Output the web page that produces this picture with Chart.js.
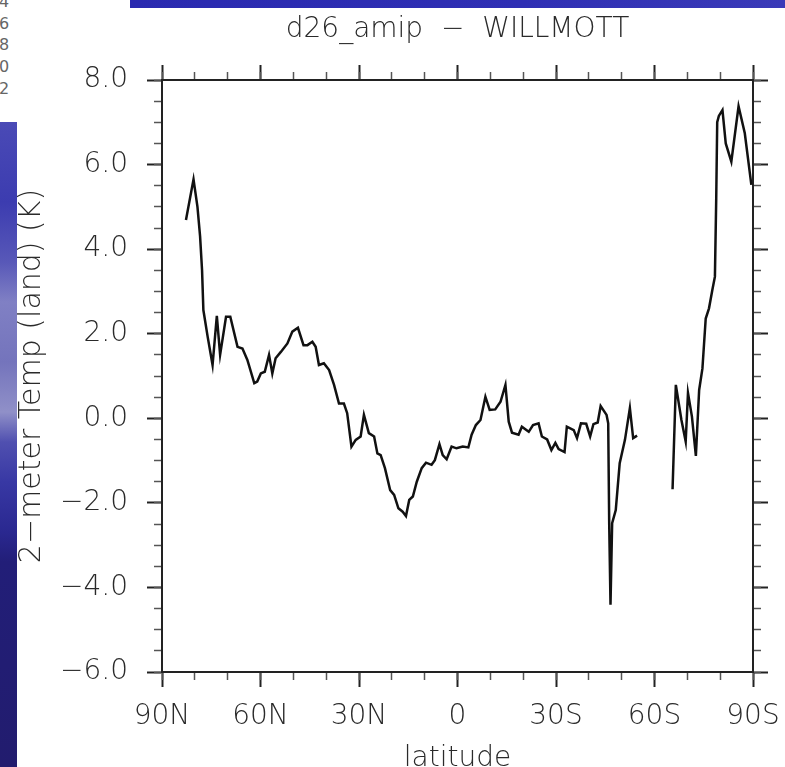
<!DOCTYPE html>
<html><head><meta charset="utf-8">
<script src="https://cdn.jsdelivr.net/npm/chart.js@4/dist/chart.umd.min.js"></script>
<style>
html,body{margin:0;padding:0;background:#fff;overflow:hidden;width:785px;height:767px;}
#wrap{position:absolute;left:0;top:0;width:785px;height:800px;}
.strip{position:absolute;left:130px;top:0;width:655px;height:8px;background:linear-gradient(90deg,#2a2ab0,#2f2fb4 60%,#3a3ab8);}
.panel{position:absolute;left:0;top:122px;width:17px;height:645px;
background:linear-gradient(180deg,#4a4ab6 0px,#3c3cb0 80px,#5858b8 140px,#8080c4 180px,#7474bc 240px,#9090c8 290px,#5050b0 320px,#3838a4 360px,#2a2890 410px,#221e78 440px,#221c6e 645px);}
.digits{position:absolute;left:-1px;top:-9px;font:16px 'DejaVu Sans',sans-serif;line-height:21.7px;color:#666;}
</style></head>
<body>
<div class="strip"></div><div class="panel"></div>
<div class="digits">4<br>6<br>8<br>0<br>2</div>
<div id="wrap"><canvas id="c"></canvas></div>
<script>
const latitudes = [82.7, 80.4, 79.2, 78.4, 77.8, 77.4, 76.1, 74.6, 73.3, 72.3,
 70.5, 69.2, 67.0, 65.5, 64.0, 61.9, 61.0, 59.9, 58.7, 57.4,
 56.4, 55.4, 53.8, 51.8, 50.3, 48.6, 46.9, 45.7, 44.2, 43.2,
 42.2, 40.7, 39.1, 37.6, 36.1, 34.6, 33.6, 32.3, 31.0, 29.5,
 28.5, 27.0, 25.4, 24.4, 23.4, 22.1, 20.5, 19.3, 18.0, 16.7,
 15.7, 14.7, 13.6, 12.4, 10.9, 9.6, 7.9, 6.9, 5.5, 4.5,
 3.3, 1.8, 0.3, -1.6, -3.3, -4.3, -5.6, -7.0, -8.5, -9.8,
 -11.5, -13.1, -14.6, -15.6, -16.6, -18.6, -19.6, -21.7, -23.0, -24.7,
 -25.7, -27.3, -28.6, -29.8, -30.8, -32.6, -33.3, -35.4, -36.4, -37.6,
 -39.2, -40.4, -41.4, -42.7, -43.6, -45.4, -45.9, -46.2, -46.6, -47.1,
 -48.2, -49.4, -51.0, -52.5, -53.5, -54.7, -60, -65.5, -66.5, -68.2,
 -69.5, -70.2, -71.4, -72.6, -73.6, -74.6, -75.6, -76.6, -77.6, -78.4,
 -78.8, -79.1, -79.6, -80.7, -81.7, -83.4, -85.6, -87.5, -89.5];
const tempDiff = [4.69, 5.65, 5.0, 4.3, 3.5, 2.56, 1.93, 1.26, 2.42, 1.5,
 2.4, 2.4, 1.69, 1.65, 1.38, 0.83, 0.87, 1.06, 1.1, 1.5,
 1.06, 1.42, 1.57, 1.77, 2.05, 2.14, 1.73, 1.73, 1.81, 1.69,
 1.26, 1.3, 1.14, 0.79, 0.35, 0.35, 0.12, -0.67, -0.51, -0.43,
 0.08, -0.35, -0.43, -0.83, -0.87, -1.18, -1.7, -1.81, -2.13, -2.21,
 -2.31, -1.93, -1.85, -1.5, -1.18, -1.05, -1.1, -0.99, -0.61, -0.87,
 -0.97, -0.67, -0.71, -0.67, -0.69, -0.39, -0.16, -0.04, 0.51, 0.2,
 0.21, 0.39, 0.79, -0.08, -0.34, -0.39, -0.2, -0.32, -0.16, -0.12,
 -0.43, -0.5, -0.75, -0.58, -0.73, -0.8, -0.2, -0.28, -0.47, -0.12,
 -0.13, -0.43, -0.14, -0.1, 0.29, 0.08, -0.12, -2.48, -4.41, -2.48,
 -2.17, -1.06, -0.51, 0.24, -0.47, -0.41, null, -1.68, 0.79, -0.04,
 -0.55, 0.6, 0.04, -0.89, 0.67, 1.18, 2.36, 2.6, 3.03, 3.35,
 5.2, 7.0, 7.15, 7.29, 6.5, 6.07, 7.38, 6.74, 5.52];
const xTickValues = [90, 60, 30, 0, -30, -60, -90];
const xTickLabels = ['90N', '60N', '30N', '0', '30S', '60S', '90S'];
const chartTitle = 'd26_amip  −  WILLMOTT';
const xTitle = 'latitude';
const yTitle = '2−meter Temp (land) (K)';

const FONT = {family: "'DejaVu Sans', sans-serif", size: 28, weight: 200};
const YTFONT = {family: "'DejaVu Sans', sans-serif", size: 30, weight: 200};
const XFONT = {family: "'DejaVu Sans', sans-serif", size: 28, weight: 200, lineHeight: 2.13};
const TXT = '#2a2a2a';

const points = latitudes.map((x, i) => ({x: x, y: tempDiff[i]}));

function xAxis(pos, major, extra) {
  return Object.assign({
    type: 'linear', position: pos, min: -90, max: 90, reverse: true,
    weight: major ? 1 : 0,
    grid: {drawOnChartArea: false, drawTicks: true, tickLength: major ? 15 : 8,
           tickWidth: major ? 2 : 1.5, tickColor: major ? '#222' : '#555'},
    border: {display: major, color: '#222', width: 2},
    ticks: {stepSize: major ? 30 : 10, display: false, padding: 0, font: FONT, color: TXT},
  }, extra || {});
}
function yAxis(pos, major, extra) {
  return Object.assign({
    type: 'linear', position: pos, min: -6, max: 8,
    weight: major ? 1 : 0,
    grid: {drawOnChartArea: false, drawTicks: true, tickLength: major ? 15 : 8,
           tickWidth: major ? 2 : 1.5, tickColor: major ? '#222' : '#555'},
    border: {display: major, color: '#222', width: 2},
    ticks: {stepSize: major ? 2 : 0.5, display: false, padding: 0, font: FONT, color: TXT},
  }, extra || {});
}

const scales = {
  x: xAxis('bottom', true, {
    afterFit: s => { s.height = 128; },
    ticks: {stepSize: 30, display: true, font: XFONT, color: TXT, padding: 0, maxRotation: 0, autoSkip: false,
      callback: v => { const k = xTickValues.indexOf(v); return k >= 0 ? xTickLabels[k] : ''; }},
    title: {display: true, text: xTitle, font: FONT, color: TXT, padding: {top: 0, bottom: 24}}
  }),
  xMinor: xAxis('bottom', false, {afterFit: s => { s.height = 0; }}),
  xTop: xAxis('top', true, {
    afterFit: s => { s.height = 80; },
    title: {display: true, text: chartTitle, font: FONT, color: TXT, padding: {top: 13, bottom: 0}}
  }),
  xTopMinor: xAxis('top', false, {afterFit: s => { s.height = 0; }}),
  y: yAxis('left', true, {
    afterFit: s => { s.width = 162; },
    ticks: {stepSize: 2, display: true, font: FONT, color: TXT, padding: 19,
      callback: v => (v < 0 ? '−' : '') + Math.abs(v).toFixed(1)},
    title: {display: true, text: yTitle, font: YTFONT, color: TXT, padding: {top: 14, bottom: 0}}
  }),
  yMinor: yAxis('left', false, {afterFit: s => { s.width = 0; }}),
  yRight: yAxis('right', true, {afterFit: s => { s.width = 32; }}),
  yRightMinor: yAxis('right', false, {afterFit: s => { s.width = 0; }}),
};

new Chart(document.getElementById('c'), {
  type: 'line',
  data: {datasets: [{
    data: points, xAxisID: 'x', yAxisID: 'y',
    borderColor: '#111', borderWidth: 2.5, pointRadius: 0, tension: 0, spanGaps: false, fill: false
  }]},
  options: {
    responsive: true, maintainAspectRatio: false, animation: false,
    layout: {padding: 0},
    plugins: {legend: {display: false}, tooltip: {enabled: false}, title: {display: false}},
    scales: scales
  }
});
</script>
</body></html>
